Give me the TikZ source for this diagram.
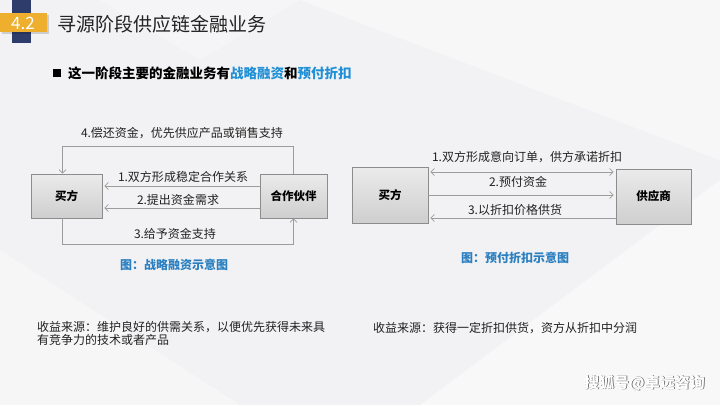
\documentclass[tikz,border=0pt]{standalone}
\usepackage{fontspec}
\setmainfont{Noto Sans CJK SC}
\usetikzlibrary{arrows.meta,positioning,calc}
\definecolor{bgc}{HTML}{F2F2F4}
\definecolor{navy}{HTML}{2E3C6B}
\definecolor{gold}{HTML}{EEAE2E}
\definecolor{hblue}{HTML}{1F8FD6}
\definecolor{capblue}{HTML}{2A7FC0}
\definecolor{linec}{HTML}{9C9C9C}
\definecolor{txt}{HTML}{222222}
\tikzset{
  box/.style={draw=linec!90!black, line width=0.6pt, top color=gray!16, bottom color=gray!38, minimum width=#1, inner sep=0pt, font=\fontsize{11.5}{12}\selectfont\bfseries, text=black},
  box/.default=70pt,
  arr/.style={draw=linec, line width=0.8pt, -{Straight Barb[length=3.5pt,width=7pt]}},
  darr/.style={draw=linec, line width=0.8pt, {Straight Barb[length=3.5pt,width=7pt]}-{Straight Barb[length=3.5pt,width=7pt]}},
  lbl/.style={font=\fontsize{12}{13}\selectfont, text=txt, inner sep=0pt},
  capt/.style={font=\fontsize{12}{13}\selectfont\bfseries, text=capblue, inner sep=0pt},
  note/.style={font=\fontsize{12}{13.5}\selectfont, text=txt, inner sep=0pt, align=left, anchor=north west}
}
\begin{document}
\begin{tikzpicture}[x=1pt,y=-1pt]
\useasboundingbox (0,0) rectangle (720,405);
% background
\fill[bgc] (0,0) rectangle (720,405);
\fill[white,opacity=0.45] (300,0) -- (720,0) -- (720,160) -- cycle;
\fill[white,opacity=0.35] (0,250) -- (240,405) -- (0,405) -- cycle;
\fill[white,opacity=0.5] (420,405) -- (720,180) -- (720,405) -- cycle;
\fill[white,opacity=0.3] (100,0) -- (300,0) -- (200,60) -- cycle;
% header
\fill[navy] (12,0) rectangle (31,43);
\fill[black,opacity=0.15] (2,15) rectangle (49,34);
\fill[gold] (0,13) rectangle (47,32);
\node[font=\fontsize{17}{17}\selectfont, text=white, inner sep=0pt] (num) at (23,23) {4.2};
\node[font=\fontsize{19}{20}\selectfont, text=txt, anchor=west, inner sep=0pt] (title) at (57,24) {寻源阶段供应链金融业务};
\fill[black] (53,69) rectangle (61,77);
\node[font=\fontsize{13.5}{14}\selectfont\bfseries, text=black, anchor=west, inner sep=0pt] (sub) at (68,73) {这一阶段主要的金融业务有\textcolor{hblue}{战略融资}和\textcolor{hblue}{预付折扣}};
% left diagram
\node[box=71pt, minimum height=44pt] (buyer1) at (66.5,196) {买方};
\node[box=67pt, minimum height=44pt] (partner) at (293.5,196) {合作伙伴};
\draw[arr] (partner.north) -- ++(0,-27) -| ([xshift=-4pt]buyer1.north);
\draw[arr, shorten >=2pt] ([yshift=10pt]partner.west) -- ([yshift=10pt]buyer1.east);
\draw[arr, shorten >=2pt] ([yshift=-12pt]partner.west) -- ([yshift=-12pt]buyer1.east);
\draw[arr] ([xshift=-4pt]buyer1.south) -- ++(0,26) -| (partner.south);
\node[lbl] (l4) at (182,133) {4.偿还资金，优先供应产品或销售支持};
\node[lbl] (l1) at (183,177) {1.双方形成稳定合作关系};
\node[lbl] (l2) at (178,200) {2.提出资金需求};
\node[lbl] (l3) at (175,234) {3.给予资金支持};
\node[capt] (cap1) at (174,265) {图：战略融资示意图};
% right diagram
\node[box=76pt, minimum height=56pt] (buyer2) at (390,195) {买方};
\node[box=75pt, minimum height=55pt] (supplier) at (653.5,196.5) {供应商};
\draw[darr, shorten <=2pt, shorten >=2pt] ([yshift=23pt]buyer2.east) -- ([yshift=23pt]buyer2.east -| supplier.west);
\draw[arr, shorten >=2pt] (buyer2.east) -- (buyer2.east -| supplier.west);
\draw[arr, shorten >=2pt] ([yshift=-23pt]buyer2.east -| supplier.west) -- ([yshift=-23pt]buyer2.east);
\node[lbl] (r1) at (527,157) {1.双方形成意向订单，供方承诺折扣};
\node[lbl] (r2) at (518,182) {2.预付资金};
\node[lbl] (r3) at (515,210) {3.以折扣价格供货};
\node[capt] (cap2) at (515,258) {图：预付折扣示意图};
% notes
\node[note] (n1) at (37,321) {收益来源：维护良好的供需关系，以便优先获得未来具\\有竞争力的技术或者产品};
\node[note] (n2) at (373,322) {收益来源：获得一定折扣供货，资方从折扣中分润};
% watermark
\node[font=\fontsize{15}{15}\selectfont\bfseries, text=gray!70!black, anchor=east, inner sep=0pt] (wm0) at (705.8,383.8) {搜狐号@卓远咨询};
\node[font=\fontsize{15}{15}\selectfont\bfseries, text=white, anchor=east, inner sep=0pt] (wm) at (705,383) {搜狐号@卓远咨询};
\end{tikzpicture}
\end{document}
